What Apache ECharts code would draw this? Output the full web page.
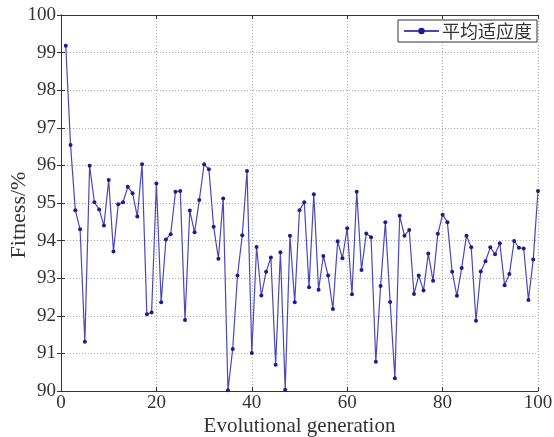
<!DOCTYPE html>
<html><head><meta charset="utf-8">
<script src="https://cdn.jsdelivr.net/npm/echarts@6/dist/echarts.min.js"></script>
<style>html,body{margin:0;padding:0;background:#fff}#c{width:554px;height:437px}</style>
</head><body><div id="c"></div>
<script>
var seriesName = '平均适应度';
var xTicks = [0, 20, 40, 60, 80, 100];
var yTicks = [90, 91, 92, 93, 94, 95, 96, 97, 98, 99, 100];
var fitness = [
 99.18, 96.54, 94.81, 94.30, 91.31, 95.99, 95.02, 94.83, 94.40, 95.61,
 93.71, 94.97, 95.02, 95.43, 95.26, 94.64, 96.03, 92.04, 92.09, 95.52,
 92.36, 94.03, 94.17, 95.30, 95.32, 91.89, 94.80, 94.22, 95.08, 96.03,
 95.90, 94.37, 93.52, 95.12, 90.02, 91.12, 93.07, 94.14, 95.85, 91.01,
 93.83, 92.54, 93.17, 93.55, 90.70, 93.69, 90.03, 94.13, 92.36, 94.81,
 95.02, 92.76, 95.23, 92.69, 93.59, 93.07, 92.18, 93.98, 93.53, 94.33,
 92.57, 95.30, 93.22, 94.19, 94.09, 90.78, 92.79, 94.49, 92.37, 90.34,
 94.66, 94.13, 94.28, 92.58, 93.07, 92.67, 93.66, 92.93, 94.18, 94.69,
 94.49, 93.17, 92.53, 93.27, 94.13, 93.82, 91.87, 93.18, 93.45, 93.82,
 93.64, 93.93, 92.81, 93.11, 93.99, 93.81, 93.79, 92.42, 93.50, 95.32
];
var pts = fitness.map(function(v, i){ return [i + 1, v]; });
var font = 'Liberation Serif';
var chart = echarts.init(document.getElementById('c'));
var frameAxis = {show: true, lineStyle: {color: '#333', width: 1}};
var grid = {type: [1, 2], color: '#aaa', width: 1};
chart.setOption({
  animation: false,
  backgroundColor: '#fff',
  grid: {left: 61, right: 16, top: 15, bottom: 46, containLabel: false, outerBoundsMode: 'none'},
  legend: {
    right: 17, top: 20,
    data: [seriesName],
    backgroundColor: '#fff',
    borderColor: '#333', borderWidth: 1,
    padding: [2, 5, 2, 5],
    itemWidth: 35, itemHeight: 8, itemGap: 4,
    textStyle: {fontFamily: 'Noto Sans CJK SC', fontSize: 18, color: '#333', padding: [0, 0, 0, -2]}
  },
  xAxis: [{
    type: 'value', min: xTicks[0], max: xTicks[xTicks.length - 1], interval: 20,
    name: 'Evolutional generation', nameLocation: 'middle', nameGap: 25, nameMoveOverlap: false,
    nameTextStyle: {fontFamily: font, fontSize: 21, color: '#333'},
    axisLine: frameAxis,
    axisTick: {inside: true, length: 4, lineStyle: {color: '#333'}},
    axisLabel: {fontFamily: font, fontSize: 19, color: '#333', margin: 3},
    splitLine: {show: true, lineStyle: grid}
  }, {
    type: 'value', position: 'top', min: 0, max: 100, interval: 20,
    axisLine: frameAxis,
    axisTick: {inside: true, length: 4, lineStyle: {color: '#333'}},
    axisLabel: {show: false}, splitLine: {show: false}
  }],
  yAxis: [{
    type: 'value', min: yTicks[0], max: yTicks[yTicks.length - 1], interval: 1,
    name: 'Fitness/%', nameLocation: 'middle', nameGap: 31, nameMoveOverlap: false,
    nameTextStyle: {fontFamily: font, fontSize: 22, color: '#333', padding: [0, 24, 0, 0]},
    axisLine: frameAxis,
    axisTick: {inside: true, length: 4, lineStyle: {color: '#333'}},
    axisLabel: {fontFamily: font, fontSize: 19, color: '#333', margin: 5},
    splitLine: {show: true, lineStyle: grid}
  }, {
    type: 'value', position: 'right', min: 90, max: 100, interval: 1,
    axisLine: frameAxis,
    axisTick: {inside: true, length: 4, lineStyle: {color: '#333'}},
    axisLabel: {show: false}, splitLine: {show: false}
  }],
  series: [{
    name: seriesName, type: 'line', data: pts,
    symbol: 'circle', symbolSize: 4, showSymbol: true,
    lineStyle: {color: '#4848b8', width: 1.2},
    itemStyle: {color: '#1c1c8c'}
  }]
});
</script></body></html>
